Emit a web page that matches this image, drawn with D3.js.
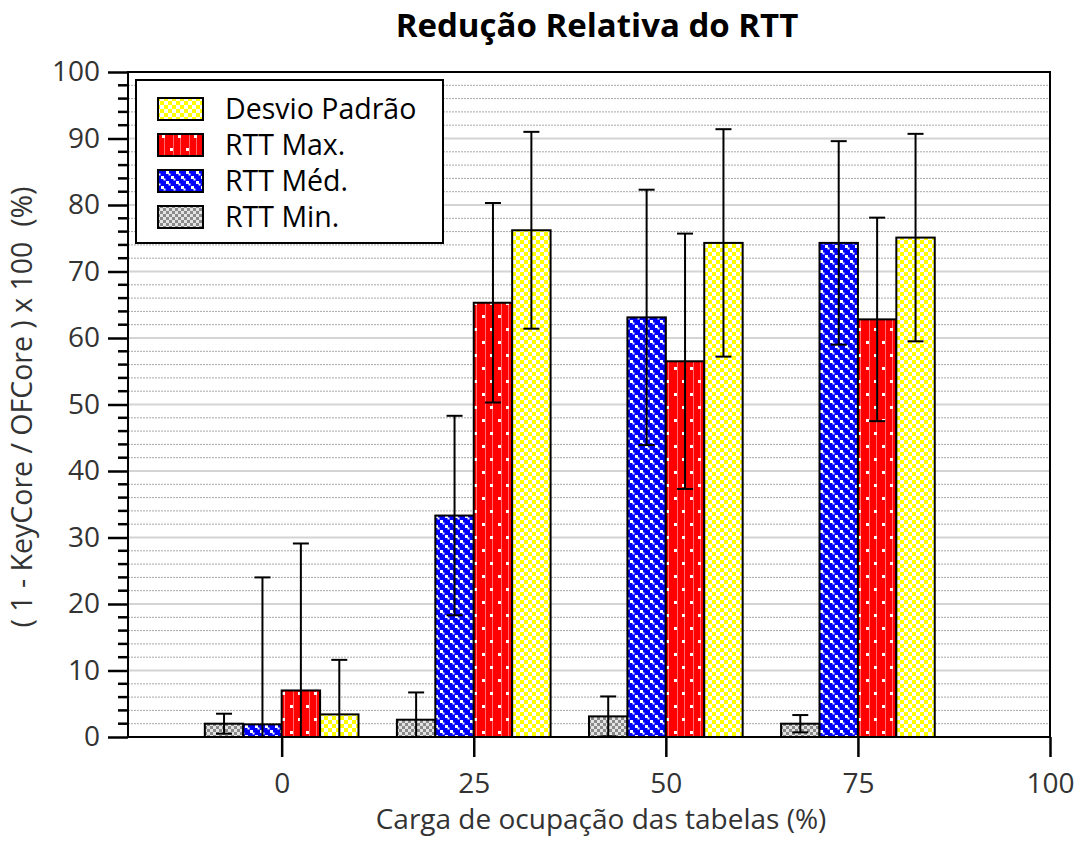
<!DOCTYPE html>
<html>
<head>
<meta charset="utf-8">
<script src="https://cdn.jsdelivr.net/npm/d3@7"></script>
<style>
  body { margin: 0; background: #fff; }
  text { font-family: "Open Sans", "Noto Sans", sans-serif; }
</style>
</head>
<body>
<div id="main"></div>
<script>
// data
var categories = [0, 25, 50, 75];
var tickValues = [0, 25, 50, 75, 100];
var seriesNames = ["RTT Min.", "RTT Méd.", "RTT Max.", "Desvio Padrão"];
var minVals = [2.0, 2.6, 3.1, 2.0];
var minErr  = [1.5, 4.1, 3.0, 1.3];
var medVals = [1.9, 33.3, 63.1, 74.3];
var medErr  = [22.1, 15.0, 19.2, 15.3];
var maxVals = [7.0, 65.3, 56.5, 62.8];
var maxErr  = [22.1, 15.0, 19.2, 15.3];
var stdVals = [3.4, 76.2, 74.3, 75.1];
var stdErr  = [8.2, 14.8, 17.1, 15.6];

var seriesVals = [minVals, medVals, maxVals, stdVals];
var seriesErr = [minErr, medErr, maxErr, stdErr];
var patternIds = ["patMin", "patMed", "patMax", "patStd"];

var width = 1083, height = 841;
var margin = {top: 72, right: 33, bottom: 104, left: 128};

var svg = d3.select('#main')
    .append('svg')
    .attr("width", width)
    .attr("height", height);

var x = d3.scaleLinear().domain([-20, 100]).range([margin.left, width - margin.right]);
var y = d3.scaleLinear().domain([0, 100]).range([height - margin.bottom, margin.top]);

// fill patterns
var defs = svg.append("defs");

var pMin = defs.append("pattern").attr("id", "patMin")
    .attr("patternUnits", "userSpaceOnUse").attr("width", 6).attr("height", 6);
pMin.append("rect").attr("width", 6).attr("height", 6).attr("fill", "#e4e4e4");
pMin.append("rect").attr("width", 3).attr("height", 3).attr("fill", "#8a8a8a");
pMin.append("rect").attr("x", 3).attr("y", 3).attr("width", 3).attr("height", 3).attr("fill", "#8a8a8a");

var pMed = defs.append("pattern").attr("id", "patMed")
    .attr("patternUnits", "userSpaceOnUse").attr("width", 10).attr("height", 10);
pMed.append("rect").attr("width", 10).attr("height", 10).attr("fill", "#0000ff");
[[0, 0], [5, 5], [2.5, 2.5], [7.5, 7.5]].forEach(function(p, i) {
  pMed.append("rect").attr("x", p[0]).attr("y", p[1])
      .attr("width", i < 2 ? 3 : 2).attr("height", i < 2 ? 3 : 2).attr("fill", "#fff");
});

var pMax = defs.append("pattern").attr("id", "patMax")
    .attr("patternUnits", "userSpaceOnUse").attr("width", 16).attr("height", 26);
pMax.append("rect").attr("width", 16).attr("height", 26).attr("fill", "#ff0000");
pMax.append("rect").attr("x", 5).attr("width", 1).attr("height", 26).attr("fill", "#ff6a6a");
pMax.append("rect").attr("x", 12).attr("width", 1).attr("height", 26).attr("fill", "#ff6a6a");
pMax.append("rect").attr("x", 2).attr("y", 3).attr("width", 3).attr("height", 3).attr("fill", "#fff");
pMax.append("rect").attr("x", 10).attr("y", 16).attr("width", 3).attr("height", 3).attr("fill", "#fff");

var pStd = defs.append("pattern").attr("id", "patStd")
    .attr("patternUnits", "userSpaceOnUse").attr("width", 8).attr("height", 8);
pStd.append("rect").attr("width", 8).attr("height", 8).attr("fill", "#fff");
pStd.append("rect").attr("width", 4).attr("height", 4).attr("fill", "#ffff00");
pStd.append("rect").attr("x", 4).attr("y", 4).attr("width", 4).attr("height", 4).attr("fill", "#ffff00");

defs.append("clipPath").attr("id", "plotClip")
  .append("rect")
    .attr("x", margin.left).attr("y", margin.top)
    .attr("width", width - margin.left - margin.right)
    .attr("height", height - margin.top - margin.bottom);

// grid lines
var minorTicks = d3.range(2, 100, 2).filter(function(v) { return v % 10 !== 0; });
var majorTicks = d3.range(10, 100, 10);

svg.append("g").selectAll("line")
    .data(minorTicks)
    .enter().append("line")
    .attr("x1", x(-20)).attr("x2", x(100))
    .attr("y1", function(d) { return y(d); })
    .attr("y2", function(d) { return y(d); })
    .attr("stroke", "#a8a8a8")
    .attr("stroke-width", 1)
    .attr("stroke-dasharray", "2,1");

svg.append("g").selectAll("line")
    .data(majorTicks)
    .enter().append("line")
    .attr("x1", x(-20)).attr("x2", x(100))
    .attr("y1", function(d) { return y(d); })
    .attr("y2", function(d) { return y(d); })
    .attr("stroke", "#d4d4d4")
    .attr("stroke-width", 2);

// bars
var barW = x(5) - x(0);
var bars = [];
seriesVals.forEach(function(vals, s) {
  vals.forEach(function(v, c) {
    bars.push({s: s, cx: categories[c] + (s - 1.5) * 5, v: v, e: seriesErr[s][c]});
  });
});

var plot = svg.append("g").attr("clip-path", "url(#plotClip)");

plot.selectAll(".bar")
    .data(bars)
    .enter().append("rect")
    .attr("class", "bar")
    .attr("x", function(d) { return x(d.cx) - barW / 2; })
    .attr("y", function(d) { return y(d.v); })
    .attr("width", barW)
    .attr("height", function(d) { return y(0) - y(d.v); })
    .attr("fill", function(d) { return "url(#" + patternIds[d.s] + ")"; })
    .attr("stroke", "#000")
    .attr("stroke-width", 2);

// error bars
var err = plot.selectAll(".err")
    .data(bars)
    .enter().append("g")
    .attr("class", "err")
    .attr("stroke", "#000")
    .attr("stroke-width", 2);

err.append("line")
    .attr("x1", function(d) { return x(d.cx); })
    .attr("x2", function(d) { return x(d.cx); })
    .attr("y1", function(d) { return y(d.v + d.e); })
    .attr("y2", function(d) { return y(d.v - d.e); });

[1, -1].forEach(function(sign) {
  err.append("line")
      .attr("x1", function(d) { return x(d.cx) - 8; })
      .attr("x2", function(d) { return x(d.cx) + 8; })
      .attr("y1", function(d) { return y(d.v + sign * d.e); })
      .attr("y2", function(d) { return y(d.v + sign * d.e); });
});

// frame
svg.append("rect")
    .attr("x", x(-20)).attr("y", y(100))
    .attr("width", x(100) - x(-20))
    .attr("height", y(0) - y(100))
    .attr("fill", "none")
    .attr("stroke", "#000")
    .attr("stroke-width", 2);

// y axis
var yAxis = svg.append("g")
    .attr("transform", "translate(" + x(-20) + ",0)")
    .call(d3.axisLeft(y).tickValues(d3.range(0, 101, 10)).tickSize(20).tickPadding(8));
yAxis.select(".domain").remove();
yAxis.selectAll(".tick line").attr("stroke", "#000").attr("stroke-width", 2.5);
yAxis.selectAll(".tick text")
    .attr("font-family", "'Open Sans', sans-serif")
    .attr("font-size", 28)
    .attr("fill", "#333");

svg.append("g").selectAll("line")
    .data(minorTicks)
    .enter().append("line")
    .attr("x1", x(-20) - 10).attr("x2", x(-20))
    .attr("y1", function(d) { return y(d); })
    .attr("y2", function(d) { return y(d); })
    .attr("stroke", "#000")
    .attr("stroke-width", 2.5);

// x axis
var xAxis = svg.append("g")
    .attr("transform", "translate(0," + y(0) + ")")
    .call(d3.axisBottom(x).tickValues(tickValues).tickSize(20).tickPadding(16));
xAxis.select(".domain").remove();
xAxis.selectAll(".tick line").attr("stroke", "#000").attr("stroke-width", 2.5);
xAxis.selectAll(".tick text")
    .attr("font-family", "'Open Sans', sans-serif")
    .attr("font-size", 28)
    .attr("fill", "#333");

// titles
svg.append("text")
    .attr("x", 597).attr("y", 37)
    .attr("text-anchor", "middle")
    .attr("font-size", 33)
    .attr("font-weight", "bold")
    .attr("fill", "#000")
    .text("Redução Relativa do RTT");

svg.append("text")
    .attr("x", 601).attr("y", 829)
    .attr("text-anchor", "middle")
    .attr("font-size", 28)
    .attr("fill", "#333")
    .text("Carga de ocupação das tabelas (%)");

svg.append("text")
    .attr("transform", "translate(32,407) rotate(-90)")
    .attr("text-anchor", "middle")
    .attr("font-size", 28.5)
    .attr("fill", "#333")
    .attr("xml:space", "preserve")
    .text("( 1 - KeyCore / OFCore ) x 100  (%)");

// legend
var legend = svg.append("g").attr("transform", "translate(136,80)");
legend.append("rect")
    .attr("width", 307).attr("height", 163)
    .attr("fill", "#fff")
    .attr("stroke", "#000")
    .attr("stroke-width", 2);

var legendOrder = [3, 2, 1, 0];
var item = legend.selectAll(".item")
    .data(legendOrder)
    .enter().append("g")
    .attr("class", "item")
    .attr("transform", function(d, i) { return "translate(0," + (29 + i * 36) + ")"; });

item.append("rect")
    .attr("x", 22).attr("y", -11)
    .attr("width", 45).attr("height", 22)
    .attr("fill", function(d) { return "url(#" + patternIds[d] + ")"; })
    .attr("stroke", "#000")
    .attr("stroke-width", 2);

item.append("text")
    .attr("x", 89).attr("y", 10)
    .attr("font-size", 28.5)
    .attr("fill", "#000")
    .text(function(d) { return seriesNames[d]; });
</script>
</body>
</html>
